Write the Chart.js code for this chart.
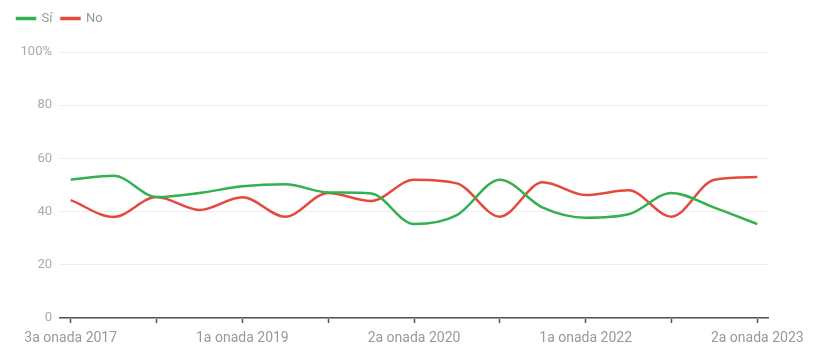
<!DOCTYPE html>
<html>
<head>
<meta charset="utf-8">
<script src="https://cdn.jsdelivr.net/npm/chart.js@4/dist/chart.umd.min.js"></script>
<style>
  html, body { margin: 0; padding: 0; background: #fff; }
  #wrap { width: 824px; height: 348px; position: relative; }
</style>
</head>
<body>
<div id="wrap"><canvas id="c" width="824" height="348"></canvas></div>
<script>
const categories = [
  "3a onada 2017", "1a onada 2018", "2a onada 2018", "3a onada 2018",
  "1a onada 2019", "2a onada 2019", "3a onada 2019", "1a onada 2020",
  "2a onada 2020", "3a onada 2020", "1a onada 2021", "2a onada 2021",
  "1a onada 2022", "2a onada 2022", "3a onada 2022", "1a onada 2023",
  "2a onada 2023"
];
const siValues = [52, 53.5, 45.5, 47, 49.5, 50.3, 47.2, 46.8, 35.3, 38.7, 52, 41.5, 37.7, 39, 47, 41.5, 35.3];
const noValues = [44.3, 38, 45.5, 40.6, 45.4, 38.1, 47, 44, 52, 50.6, 38.1, 51, 46.2, 48, 38.1, 52, 53];
const yTicks = [0, 20, 40, 60, 80, 100];

const toPoints = arr => arr.map((v, i) => ({ x: i, y: v }));
const GREEN = "#33b04f";
const RED = "#e5493d";

const legendGap = {
  id: "legendGap",
  beforeInit(chart) {
    const orig = chart.legend.fit;
    chart.legend.fit = function () {
      orig.bind(chart.legend)();
      this.height += 17;
    };
  }
};

new Chart(document.getElementById("c"), {
  type: "line",
  data: {
    datasets: [
      { label: "Sí", data: toPoints(siValues), borderColor: GREEN, backgroundColor: GREEN,
        borderWidth: 2.5, pointRadius: 0, tension: 0.4, cubicInterpolationMode: "monotone" },
      { label: "No", data: toPoints(noValues), borderColor: RED, backgroundColor: RED,
        borderWidth: 2.5, pointRadius: 0, tension: 0.4, cubicInterpolationMode: "monotone" }
    ]
  },
  plugins: [legendGap],
  options: {
    responsive: false,
    animation: false,
    layout: { padding: { left: 8, right: 56, top: 3, bottom: 0 } },
    plugins: {
      legend: {
        display: true,
        position: "top",
        align: "start",
        labels: {
          boxWidth: 18, boxHeight: 1, padding: 9,
          color: "#999",
          font: { family: "Roboto", size: 13 }
        }
      },
      tooltip: { enabled: false }
    },
    scales: {
      x: {
        type: "linear",
        min: -0.25,
        max: 16.25,
        afterFit: s => { s.height = 30; },
        grid: { drawOnChartArea: false, drawTicks: true, tickLength: 5, tickColor: "#555", tickWidth: 1.5 },
        border: { display: true, color: "#555", width: 1.5 },
        ticks: {
          stepSize: 2,
          includeBounds: false,
          autoSkip: false,
          maxRotation: 0,
          padding: 7,
          color: "#999",
          font: { family: "Roboto", size: 14 },
          callback: v => (Number.isInteger(v) && v % 4 === 0 && categories[v]) ? categories[v] : ""
        }
      },
      y: {
        min: 0,
        max: 100,
        afterFit: s => { s.width = 52; },
        afterBuildTicks: s => { s.ticks = yTicks.map(v => ({ value: v })); },
        grid: { color: "#eeeeee", drawTicks: false, lineWidth: 1 },
        border: { display: false },
        ticks: {
          padding: 8,
          color: "#aaa",
          font: { family: "Roboto", size: 13 },
          callback: v => v === 100 ? "100%" : String(v)
        }
      }
    }
  }
});
</script>
</body>
</html>
